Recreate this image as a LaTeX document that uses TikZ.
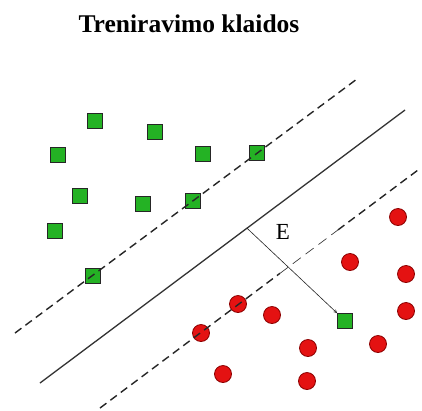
\documentclass[tikz,border=0pt]{standalone}
\usepackage{fontspec}
\setmainfont{Liberation Serif}
\usetikzlibrary{arrows, positioning}
\definecolor{zalia}{RGB}{36,178,36}
\definecolor{raudona}{RGB}{228,18,18}

\begin{document}
\begin{tikzpicture}[x=1pt, y=-1pt,
        teig/.style={rectangle, draw=black!85, fill=zalia, line width=0.8pt, minimum size=15pt, inner sep=0pt},
        neig/.style={circle, draw=red!55!black, fill=raudona, line width=0.8pt, minimum size=17pt, inner sep=0pt},
        riba/.style={line width=1.3pt, color=black!80},
        parasta/.style={line width=1.4pt, color=black!85, dash pattern=on 8pt off 5pt},
        arrow/.style={->, >=stealth, semithick, color=black!85}
    ]
        % Fonas
        \fill[white] (0,0) rectangle (422,410);

        % Pavadinimas
        \node[anchor=base, font=\bfseries\fontsize{25.5}{30}\selectfont] (title) at (189,32) {Treniravimo klaidos};

        % Teigiami pavyzdziai
        \node[teig] (g1) at (95,121) {};
        \node[teig] (g2) at (155,132) {};
        \node[teig] (g3) at (58,155) {};
        \node[teig] (g4) at (203,154) {};
        \node[teig] (g5) at (257,153) {};
        \node[teig] (g6) at (80,196) {};
        \node[teig] (g7) at (143,204) {};
        \node[teig] (g8) at (193,201) {};
        \node[teig] (g9) at (55,231) {};
        \node[teig] (g10) at (93,276) {};
        \node[teig] (g11) at (345,321) {};

        % Neigiami pavyzdziai
        \node[neig] (r1) at (398,217) {};
        \node[neig] (r2) at (350,262) {};
        \node[neig] (r3) at (406,274) {};
        \node[neig] (r4) at (238,304) {};
        \node[neig] (r5) at (272,315) {};
        \node[neig] (r6) at (406,311) {};
        \node[neig] (r7) at (201,333) {};
        \node[neig] (r8) at (378,344) {};
        \node[neig] (r9) at (308,348) {};
        \node[neig] (r10) at (223,374) {};
        \node[neig] (r11) at (307,381) {};

        % Tieses
        \coordinate (s1) at (40,383);
        \coordinate (s2) at (405,110);
        \coordinate (u1) at (15,333);
        \coordinate (u2) at (357,79);
        \coordinate (l1) at (100,408);
        \coordinate (l2) at (280,273.3);
        \coordinate (l3) at (338,229.9);
        \coordinate (l4) at (418,170);
        \coordinate (foot) at (247,228.2);

        \draw[riba] (s1) -- (s2);
        \draw[parasta] (u1) -- (u2);
        \draw[parasta] (l1) -- (l2);
        \draw[parasta, line width=0.6pt, dash pattern=on 10pt off 6pt] (l2) -- (l3);
        \draw[parasta] (l3) -- (l4);

        % Klaida
        \draw[arrow] (foot) -- (g11.north west);
        \node[font=\fontsize{23}{26}\selectfont] (E) at (283,232) {E};
    \end{tikzpicture}
\end{document}
